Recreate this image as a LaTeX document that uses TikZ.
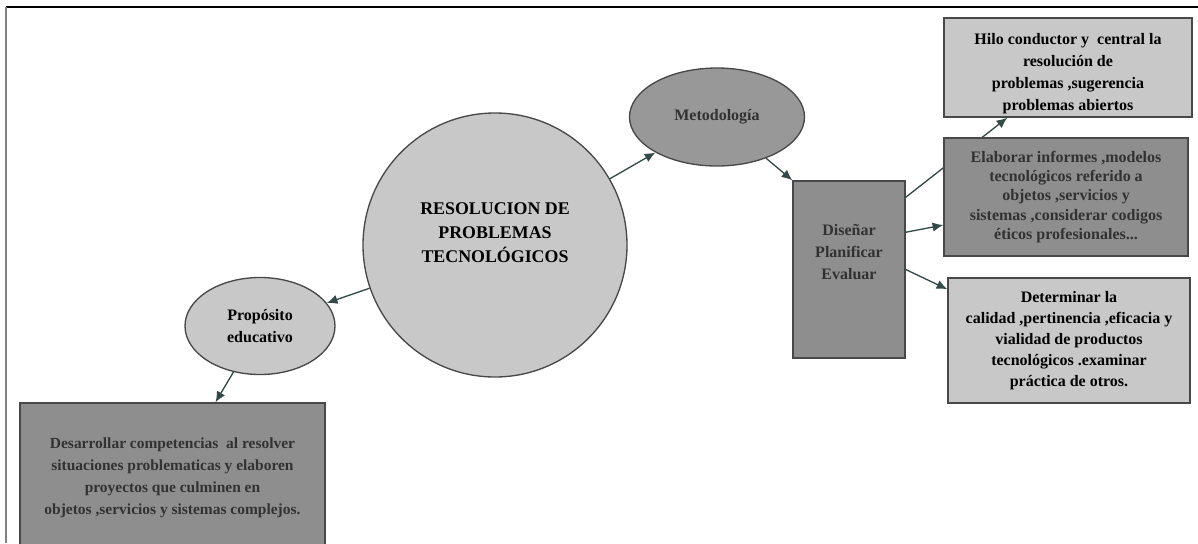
\documentclass[tikz,border=0pt]{standalone}
\usepackage{fontspec}
\setmainfont{Liberation Serif}
\usetikzlibrary{shapes.geometric,arrows.meta}
\definecolor{lightg}{RGB}{200,200,200}
\definecolor{darkg}{RGB}{142,142,142}
\definecolor{midg}{RGB}{152,152,152}
\definecolor{edgec}{RGB}{72,72,72}
\definecolor{arrowc}{RGB}{52,74,72}
\definecolor{dtext}{RGB}{50,50,50}
\pgfdeclarelayer{back}
\pgfsetlayers{back,main}
\tikzset{
  lbl/.style={font=\bfseries\fontsize{12}{16.5}\selectfont, align=center, inner sep=0pt},
  lightbox/.style={lbl, rectangle, fill=lightg, draw=edgec, line width=1.1pt, text=black},
  darkbox/.style={lbl, rectangle, fill=darkg, draw=edgec, line width=1.1pt, text=dtext},
  conn/.style={draw=arrowc, line width=1pt, -{Latex[length=8pt,width=7pt]}},
}
\begin{document}
\begin{tikzpicture}[x=0.75pt,y=-0.75pt]
\useasboundingbox (0,0) rectangle (1198,543);
\clip (0,0) rectangle (1198,543);

% outer frame (top and left edges)
\draw[line width=1.4pt, black] (6,7) -- (1198,7);
\draw[line width=1.4pt, gray] (6,7) -- (6,543);

% central topic
\node[lbl, circle, fill=lightg, draw=edgec, line width=1pt, minimum size=0.75*264pt,
      font=\bfseries\fontsize{13.4}{18}\selectfont] (res) at (495,245)
  {RESOLUCION DE\\PROBLEMAS\\TECNOLÓGICOS\\[1pt]};

\node[lbl, ellipse, fill=midg, draw=edgec, line width=1pt, minimum width=0.75*175pt,
      minimum height=0.75*98pt, text=dtext] (met) at (717,117) {Metodología};

\node[lbl, ellipse, fill=lightg, draw=edgec, line width=1pt, minimum width=0.75*150pt,
      minimum height=0.75*97pt] (pro) at (260,326) {Propósito\\educativo};

\node[darkbox, minimum width=0.75*112pt, minimum height=0.75*177pt] (dis) at (849,269.5)
  {Diseñar\\Planificar\\Evaluar\\[10pt]};

\node[lightbox, minimum width=0.75*248pt, minimum height=0.75*99pt] (hilo) at (1068,67.5)
  {\rule{0pt}{17pt}Hilo conductor y~ central la\\resolución de\\problemas ,sugerencia\\problemas abiertos};

\node[darkbox, minimum width=0.75*244pt, minimum height=0.75*118pt,
      font=\bfseries\fontsize{12}{14.5}\selectfont] (ela) at (1066,197)
  {Elaborar informes ,modelos\\tecnológicos referido a\\objetos ,servicios y\\sistemas ,considerar codigos\\éticos profesionales...};

\node[lightbox, minimum width=0.75*242pt, minimum height=0.75*125pt,
      font=\bfseries\fontsize{12}{15.8}\selectfont] (det) at (1069,340.5)
  {Determinar la\\calidad ,pertinencia ,eficacia y\\vialidad de productos\\tecnológicos .examinar\\práctica de otros.};

\node[darkbox, minimum width=0.75*305pt, minimum height=0.75*150pt,
      font=\bfseries\fontsize{11.6}{16.5}\selectfont] (des) at (172.5,478)
  {Desarrollar competencias~ al resolver\\situaciones problematicas y elaboren\\proyectos que culminen en\\objetos ,servicios y sistemas complejos.};

% connectors, drawn underneath the shapes
\begin{pgfonlayer}{back}
  \draw[conn] (res) -- (met);
  \draw[conn] (met) -- (dis.north west);
  \draw[conn] (res) -- (pro);
  \draw[conn] (pro.240) -- ([xshift=0.75*43pt]des.north);
  \draw[conn] ([yshift=-0.75*52pt]dis.north east) -- ([yshift=-0.75*28pt]ela.west);
  \draw[conn] (dis.east) -- ([yshift=-0.75*12pt]det.north west);
  \draw[conn] ([yshift=-0.75*17pt]dis.north east) -- ([xshift=0.75*64pt]hilo.south west);
\end{pgfonlayer}
\end{tikzpicture}
\end{document}
